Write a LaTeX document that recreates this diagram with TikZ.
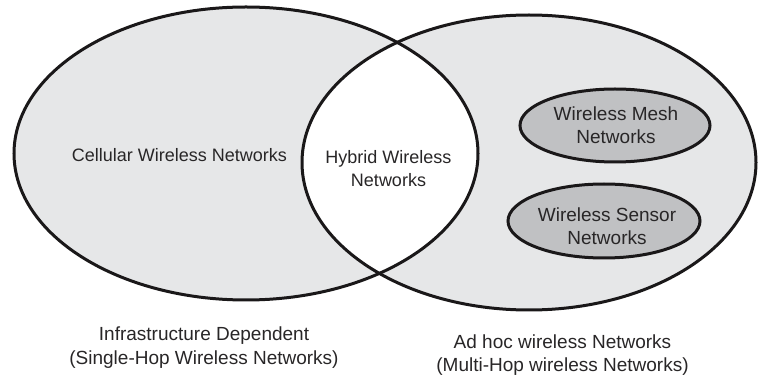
\documentclass[tikz,border=0pt]{standalone}
\usepackage{fontspec}
\setmainfont{Liberation Sans}
\usetikzlibrary{shapes.geometric}
\definecolor{outerfill}{RGB}{230,231,232}
\definecolor{innerfill}{RGB}{192,193,195}
\definecolor{inkline}{RGB}{26,24,25}
\definecolor{inktext}{RGB}{40,38,39}
\begin{document}
\begin{tikzpicture}[x=1pt,y=1pt,
  lbl/.style={font=\fontsize{18}{22.7}\selectfont, text=inktext, align=center, inner sep=0pt},
  biglbl/.style={lbl, font=\fontsize{19}{22.7}\selectfont},
  caption/.style={lbl, font=\fontsize{19}{23.5}\selectfont},
  subnet/.style={ellipse, draw=inkline, line width=3pt, fill=innerfill, inner sep=0pt}]
\useasboundingbox (0,0) rectangle (758,383);

% two overlapping network families
\fill[outerfill] (246,229.5) ellipse [x radius=232, y radius=146.5];
\fill[outerfill] (529,220.5) ellipse [x radius=227, y radius=147.5];
\begin{scope}
  \clip (246,229.5) ellipse [x radius=232, y radius=146.5];
  \fill[white] (529,220.5) ellipse [x radius=227, y radius=147.5];
\end{scope}
\draw[inkline, line width=3pt] (246,229.5) ellipse [x radius=232, y radius=146.5];
\draw[inkline, line width=3pt] (529,220.5) ellipse [x radius=227, y radius=147.5];

% region labels
\node[lbl, anchor=base] (cell) at (179.5,221.3) {Cellular Wireless Networks};
\node[lbl] (hybrid) at (388.5,214.2) {Hybrid Wireless\\Networks};

% ad hoc sub-classes
\node[subnet, minimum width=190pt, minimum height=73pt] (mesh) at (615,257.5) {};
\node[biglbl] (meshtxt) at ([xshift=1pt]mesh.center) {Wireless Mesh\\Networks};
\node[subnet, minimum width=192pt, minimum height=74pt] (sensor) at (604,162) {};
\node[biglbl] (sensortxt) at ([xshift=3pt,yshift=-5pt]sensor.center) {Wireless Sensor\\Networks};

% captions
\node[caption] (infra) at (204,35.2) {Infrastructure Dependent\\(Single-Hop Wireless Networks)};
\node[caption] (adhoc) at (562.5,27.7) {Ad hoc wireless Networks\\(Multi-Hop wireless Networks)};
\end{tikzpicture}
\end{document}
